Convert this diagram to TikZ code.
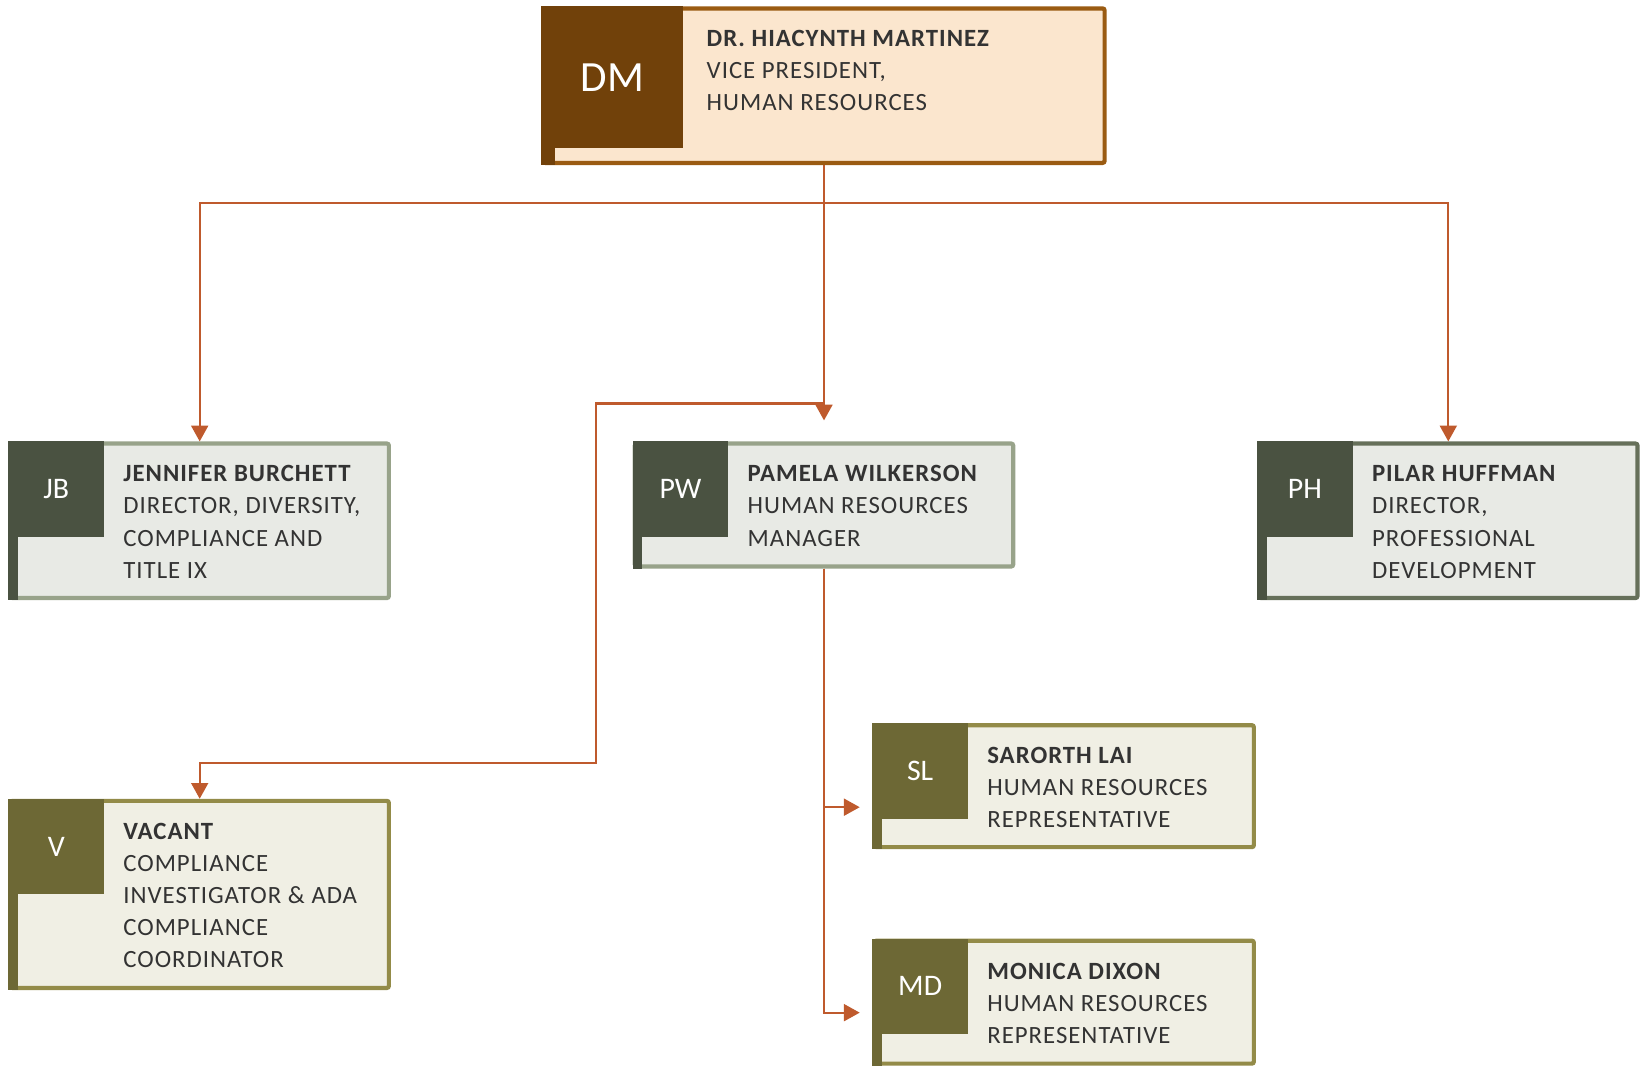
\documentclass[tikz,border=0pt]{standalone}
\usepackage{fontspec}
\setmainfont{Carlito}
\newfontfamily\cardfont{Carlito}[LetterSpace=4]
\newfontfamily\initfont{Carlito}
\usetikzlibrary{arrows.meta}
\definecolor{dmdark}{HTML}{71410A}
\definecolor{dmborder}{HTML}{9A5B12}
\definecolor{dmfill}{HTML}{FBE6CE}
\definecolor{ggdark}{HTML}{4A5241}
\definecolor{ggborder}{HTML}{98A38A}
\definecolor{ggfill}{HTML}{E8EAE5}
\definecolor{ghdark}{HTML}{4A5241}
\definecolor{ghborder}{HTML}{66705A}
\definecolor{ghfill}{HTML}{E8EAE5}
\definecolor{oldark}{HTML}{6D6835}
\definecolor{olborder}{HTML}{938B48}
\definecolor{olfill}{HTML}{F0EFE4}
\definecolor{connc}{HTML}{BF5A2D}
\definecolor{textgray}{HTML}{333333}
\newcommand\cardlines[1]{\begin{tabular}[t]{@{}l@{}}#1\end{tabular}}
% #1 name, #2 x1, #3 y1, #4 x2, #5 y2, #6 theme, #7 square size, #8 initials, #9 text
\newcommand\orgcard[9]{%
  \node[cardbox, draw=#6border, fill=#6fill,
        minimum width={(#4-#2-4)*0.5pt}, minimum height={(#5-#3-4)*0.5pt}]
        (#1) at ({(#2+#4)/2},{(#3+#5)/2}) {};
  \fill[#6dark] (#2,#3) rectangle ++(#7,#7);
  \fill[#6dark] (#2,#3) rectangle ({#2+#7/10},#5);
  \node[inittext, #6init] (#1i) at ({#2+#7/2},{#3+#7/2}) {#8};
  \node[cardtext] (#1t) at ({#2+#7+18+(#7-91)/11},{#3+38.5}) {\cardlines{#9}};
}
\begin{document}
\begin{tikzpicture}[x=0.5pt,y=-0.5pt,
  cardbox/.style={rectangle, line width=2pt, inner sep=0pt, rounded corners=1pt},
  inittext/.style={text=white, inner sep=0pt, font=\initfont\fontsize{14.2}{16}\selectfont},
  dminit/.style={font=\initfont\fontsize{20.5}{24}\selectfont},
  gginit/.style={}, ghinit/.style={}, olinit/.style={},
  cardtext/.style={anchor=base west, inner sep=0pt, text=textgray,
    font=\cardfont\fontsize{11.8}{15.25}\selectfont},
  conn/.style={draw=connc, line width=1.1pt, -{Triangle[length=7.5pt,width=8pt]}}]
\useasboundingbox (0,0) rectangle (1568,1016);

\orgcard{dm}{515}{6}{1053}{157}{dm}{135}{DM}{\textbf{DR. HIACYNTH MARTINEZ}\\ VICE PRESIDENT,\\ HUMAN RESOURCES}
\orgcard{jb}{8}{420}{372}{571}{gg}{91}{JB}{\textbf{JENNIFER BURCHETT}\\ DIRECTOR, DIVERSITY,\\ COMPLIANCE AND\\ TITLE IX}
\orgcard{pw}{602}{420}{966}{541}{gg}{91}{PW}{\textbf{PAMELA WILKERSON}\\ HUMAN RESOURCES\\ MANAGER}
\orgcard{ph}{1196}{420}{1560}{571}{gh}{91}{PH}{\textbf{PILAR HUFFMAN}\\ DIRECTOR,\\ PROFESSIONAL\\ DEVELOPMENT}
\orgcard{v}{8}{760}{372}{942}{ol}{91}{V}{\textbf{VACANT}\\ COMPLIANCE\\ INVESTIGATOR \& ADA\\ COMPLIANCE\\ COORDINATOR}
\orgcard{sl}{830}{688}{1195}{808}{ol}{91}{SL}{\textbf{SARORTH LAI}\\ HUMAN RESOURCES\\ REPRESENTATIVE}
\orgcard{md}{830}{893}{1195}{1014}{ol}{91}{MD}{\textbf{MONICA DIXON}\\ HUMAN RESOURCES\\ REPRESENTATIVE}

\coordinate (dmbus) at ([yshift=-18pt]dm.south);
\coordinate (pwtip) at ([yshift=10pt]pw.north);
\coordinate (pwbr) at ([yshift=18pt]pw.north);
\coordinate (slin) at ([xshift=-6pt,yshift=-10pt]sl.west);
\coordinate (mdin) at ([xshift=-6pt,yshift=-5pt]md.west);

\draw[conn] (dm.south) -- (dmbus) -| (jb.north);
\draw[conn] (dmbus) -| (ph.north);
\draw[conn] (dm.south) -- (pwtip);
\draw[conn] (pwbr) -| ++(-217,342) -| (v.north);
\draw[conn] (pw.south) |- (slin);
\draw[conn] (pw.south) |- (mdin);
\end{tikzpicture}
\end{document}
